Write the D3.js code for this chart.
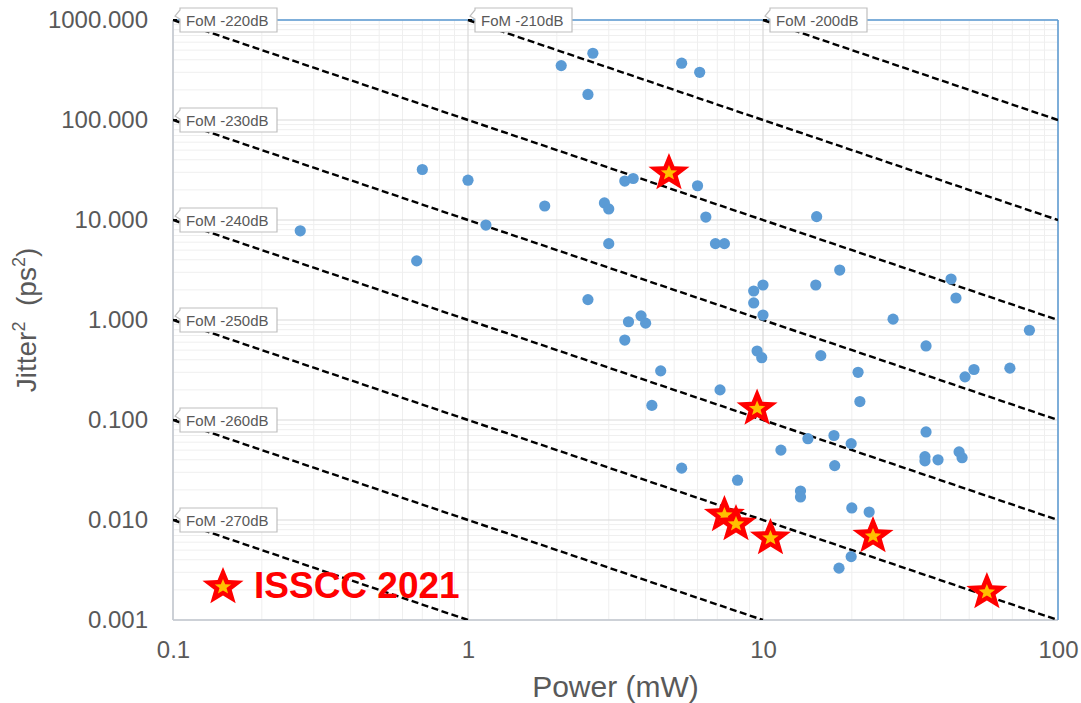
<!DOCTYPE html>
<html><head><meta charset="utf-8">
<script src="https://cdn.jsdelivr.net/npm/d3@7"></script>
<style>body{margin:0;background:#fff;} text{font-family:"Liberation Sans",Arial,sans-serif;}</style>
</head><body><svg id="c" width="1081" height="703"></svg>
<script>
// ---- data ----
const xTicks = [0.1, 1, 10, 100];
const xTickLabels = ["0.1", "1", "10", "100"];
const yTicks = [0.001, 0.01, 0.1, 1, 10, 100, 1000];
const yTickLabels = ["0.001", "0.010", "0.100", "1.000", "10.000", "100.000", "1000.000"];
const fomValues = [-200, -210, -220, -230, -240, -250, -260, -270];
const fomLabelPower = [10, 1, 0.1, 0.1, 0.1, 0.1, 0.1, 0.1];
const fomLabelJitter = [1000, 1000, 1000, 100, 10, 1, 0.1, 0.01];
const otherPower = [0.27,0.67,0.70,1.0,1.15,1.82,2.07,2.55,2.65,2.55,2.9,3.0,3.0,3.4,3.63,3.4,3.5,4.0,3.86,4.2,4.5,5.3,5.3,6.1,6.0,6.4,6.9,7.4,7.15,8.2,9.3,9.3,10,10,9.55,9.9,11.5,13.4,13.4,14.2,15.1,15.2,15.7,17.4,17.5,18.2,19.9,20,22.9,19.9,18.1,21,21.3,27.6,35.7,35.7,35.4,35.4,39.2,43.4,45.1,46.2,47.3,48.4,51.9,68.7,80];
const otherJitter = [7.8,3.9,32,25,8.9,13.8,350,180,465,1.6,14.8,12.9,5.8,24.5,26,0.63,0.96,0.93,1.1,0.14,0.31,0.033,370,300,22,10.7,5.8,5.8,0.2,0.025,1.95,1.48,2.24,1.12,0.49,0.42,0.05,0.0195,0.017,0.065,2.24,10.8,0.44,0.07,0.035,3.16,0.058,0.0132,0.012,0.0043,0.0033,0.30,0.153,1.02,0.55,0.076,0.043,0.039,0.04,2.57,1.66,0.048,0.042,0.27,0.32,0.33,0.79];
const isscc2021Power = [4.8, 9.55, 7.4, 8.1, 10.6, 23.6, 57.4];
const isscc2021Jitter = [29.5, 0.13, 0.0112, 0.0091, 0.0066, 0.0069, 0.0019];
const legendLabel = "ISSCC 2021";

// ---- chart ----
const svg = d3.select("#c");
const x = d3.scaleLog().domain([0.1, 100]).range([173, 1058]);
const y = d3.scaleLog().domain([0.001, 1000]).range([620, 20]);
const [x0, x1] = x.range(), [y0, y1] = y.range();
const grey = "#595959";

// minor grid
const minorX = [], minorY = [];
for (let e = -1; e < 2; e++) for (let k = 2; k <= 9; k++) minorX.push(k * Math.pow(10, e));
for (let e = -3; e < 3; e++) for (let k = 2; k <= 9; k++) minorY.push(k * Math.pow(10, e));
const g = svg.append("g");
g.selectAll(".mx").data(minorX).join("line").attr("x1", d => x(d)).attr("x2", d => x(d)).attr("y1", y0).attr("y2", y1).attr("stroke", "#efefef").attr("stroke-width", 1);
g.selectAll(".my").data(minorY).join("line").attr("y1", d => y(d)).attr("y2", d => y(d)).attr("x1", x0).attr("x2", x1).attr("stroke", "#efefef").attr("stroke-width", 1);
g.selectAll(".Mx").data(xTicks).join("line").attr("x1", d => x(d)).attr("x2", d => x(d)).attr("y1", y0).attr("y2", y1).attr("stroke", "#d9d9d9").attr("stroke-width", 1.2);
g.selectAll(".My").data(yTicks).join("line").attr("y1", d => y(d)).attr("y2", d => y(d)).attr("x1", x0).attr("x2", x1).attr("stroke", "#d9d9d9").attr("stroke-width", 1.2);

// borders
svg.append("line").attr("x1", x0).attr("x2", x0).attr("y1", y0).attr("y2", y1).attr("stroke", "#c3c9d0").attr("stroke-width", 1.5);
svg.append("line").attr("x1", x0).attr("x2", x1).attr("y1", y0).attr("y2", y0).attr("stroke", "#c3c9d0").attr("stroke-width", 1.5);
svg.append("line").attr("x1", x0).attr("x2", x1).attr("y1", y1).attr("y2", y1).attr("stroke", "#5b9bd5").attr("stroke-width", 1.5);
svg.append("line").attr("x1", x1).attr("x2", x1).attr("y1", y0).attr("y2", y1).attr("stroke", "#5b9bd5").attr("stroke-width", 1.5);

// axes
const yAxis = d3.axisLeft(y).tickValues(yTicks).tickFormat((d, i) => yTickLabels[i]).tickSize(0).tickPadding(25);
const ya = svg.append("g").attr("transform", `translate(${x0},0)`).call(yAxis);
ya.select(".domain").remove();
ya.selectAll("text").attr("fill", grey).style("font-size", "24px").style("font-family", "Liberation Sans, Arial, sans-serif");
const xAxis = d3.axisBottom(x).tickValues(xTicks).tickFormat((d, i) => xTickLabels[i]).tickSize(0).tickPadding(21);
const xa = svg.append("g").attr("transform", `translate(0,${y0})`).call(xAxis);
xa.select(".domain").remove();
xa.selectAll("text").attr("fill", grey).style("font-size", "24px").style("font-family", "Liberation Sans, Arial, sans-serif");

// titles
svg.append("text").attr("x", (x0 + x1) / 2).attr("y", 697).attr("text-anchor", "middle").attr("fill", grey).style("font-size", "30px").text("Power (mW)");
const yt = svg.append("text").attr("transform", `translate(36,${(y0 + y1) / 2}) rotate(-90)`).attr("text-anchor", "middle").attr("fill", grey).style("font-size", "28px");
yt.append("tspan").text("Jitter");
yt.append("tspan").attr("dy", -11).style("font-size", "18px").text("2");
yt.append("tspan").attr("dy", 11).text("\u00a0 (ps");
yt.append("tspan").attr("dy", -11).style("font-size", "18px").text("2");
yt.append("tspan").attr("dy", 11).text(")");

// FoM lines
svg.append("clipPath").attr("id", "pc").append("rect").attr("x", x0).attr("y", y1).attr("width", x1 - x0).attr("height", y0 - y1);
const fomLines = fomValues.map(f => {
  const k = Math.pow(10, f / 10 + 24);
  const pStart = Math.max(0.1, k / 1000), pEnd = Math.min(100, k / 0.001);
  return [[pStart, k / pStart], [pEnd, k / pEnd]];
});
svg.append("g").attr("clip-path", "url(#pc)").selectAll("path").data(fomLines).join("path")
  .attr("d", d => d3.line().x(p => x(p[0])).y(p => y(p[1]))(d))
  .attr("fill", "none").attr("stroke", "#000").attr("stroke-width", 2.4).attr("stroke-dasharray", "7,3.5");

// data points
svg.append("g").selectAll("circle").data(otherPower.map((p, i) => [p, otherJitter[i]])).join("circle")
  .attr("cx", d => x(d[0])).attr("cy", d => y(d[1])).attr("r", 5.6).attr("fill", "#5b9bd5");

// FoM labels
const lab = svg.append("g").selectAll("g").data(fomValues.map((f, i) => ({ f, p: fomLabelPower[i], j: fomLabelJitter[i] }))).join("g")
  .attr("transform", d => `translate(${x(d.p)},${y(d.j)})`);
lab.append("path").attr("d", "M7,-12 H104 V12 H7 V-1 L2,-4 L7,-10 Z").attr("fill", "#fff").attr("stroke", "#bfbfbf").attr("stroke-width", 1.2);
lab.append("line").attr("x1", 0).attr("x2", 4).attr("y1", 0).attr("y2", 0).attr("stroke", "#000").attr("stroke-width", 2);
lab.append("text").attr("x", 13).attr("y", 5.5).attr("fill", grey).style("font-size", "15px").text(d => `FoM ${d.f}dB`);

// stars
function starPath(R, r, sx) {
  const pts = [];
  for (let i = 0; i < 10; i++) {
    const a = -Math.PI / 2 + i * Math.PI / 5;
    const rad = i % 2 === 0 ? R : r;
    pts.push([Math.cos(a) * rad * sx, Math.sin(a) * rad]);
  }
  return "M" + pts.map(p => p.join(",")).join("L") + "Z";
}
const stars = svg.append("g").selectAll("g").data(isscc2021Power.map((p, i) => [p, isscc2021Jitter[i]])).join("g")
  .attr("transform", d => `translate(${x(d[0])},${y(d[1])})`);
stars.append("path").attr("d", starPath(20, 8.5, 1.08)).attr("fill", "#ff0000");
stars.append("path").attr("d", starPath(8, 3.4, 1.08)).attr("fill", "#ffc000");

// legend
const lg = svg.append("g").attr("transform", "translate(223,587)");
lg.append("path").attr("d", starPath(20, 8.5, 1.08)).attr("fill", "#ff0000");
lg.append("path").attr("d", starPath(8, 3.4, 1.08)).attr("fill", "#ffc000");
svg.append("text").attr("x", 254).attr("y", 598).attr("fill", "#ff0000").style("font-size", "37px").style("font-weight", "bold").text(legendLabel);
</script></body></html>
